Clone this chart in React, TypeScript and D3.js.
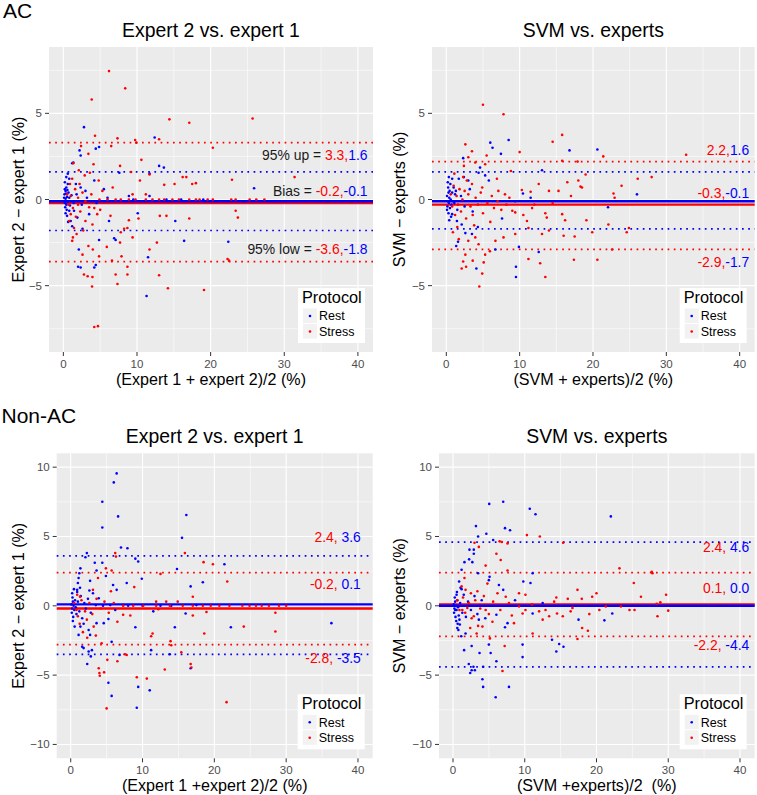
import React from 'react';
import * as d3 from 'd3';

const FONT = '"Liberation Sans", Arial, Helvetica, sans-serif';
const BLUE = '#0000ff';
const RED = '#ff0000';

// ---- AC, expert 2 vs expert 1 ----
const acExpertRest = [
  [2.8, 4.2], [12.4, 3.6], [4.85, 3.05], [4.4, 2.95], [2.2, 2.85], [2.35, 2.55], [1.2, 2.1], [1.35, 2.15],
  [13.0, 1.95], [13.65, 1.85], [11.7, 1.5], [7.6, 1.55], [4.2, 1.1], [25.9, 0.65], [0.8, 1.2], [0.6, 0.9],
  [0.4, 0.7], [0.3, 0.5], [1.7, 0.9], [2.35, 0.7], [3.0, 0.5], [5.5, 0.6], [8.9, 0.2], [11.7, 0.2],
  [15.2, -1.25], [16.4, -2.4], [22.4, -2.45], [11.5, -3.35], [11.3, -5.6], [4.4, -3.8], [4.2, -3.95],
  [2.1, -2.9], [2.0, -3.9], [2.35, -3.95], [4.85, -2.35], [6.9, -2.25], [7.1, -2.35], [1.0, -1.25],
  [1.2, -1.55], [2.6, -1.7], [1.9, -1.05], [0.8, -0.65], [0.5, -0.95], [1.45, -0.65], [3.5, -0.85],
  [10.1, -0.8], [6.2, -1.25], [0.1, 0.1], [0.2, -0.2], [0.15, 0.3], [0.3, 0.05], [0.25, -0.45],
  [0.4, -0.3], [0.35, 0.35], [0.5, 0.15], [0.2, 0.6], [0.45, -0.6], [0.6, -0.15], [0.7, 0.4], [0.1, -0.1],
  [0.3, -0.8], [0.55, 0.55], [0.9, -0.35], [1.1, 0.25], [0.8, 0.1], [1.4, -0.2], [1.8, 0.3], [2.5, -0.3],
  [3.2, 0.1], [0.2, 1.0], [0.4, 1.3], [0.6, 1.5], [0.65, -1.3], [4.5, -0.2], [6.0, 0.1], [9.5, 0.0],
  [14.0, 0.0], [16.0, 0.0], [19.0, 0.0],
];
const acExpertStress = [
  [6.2, 7.45], [8.4, 6.45], [3.85, 5.8], [14.4, 4.65], [17.1, 4.45], [25.7, 4.7], [4.3, 3.7], [7.35, 3.55],
  [9.75, 3.45], [9.9, 3.3], [13.0, 3.5], [20.3, 3.0], [2.4, 3.1], [6.5, 3.1], [3.4, 2.65], [10.6, 2.3],
  [4.1, 2.05], [7.7, 1.95], [1.35, 2.1], [2.1, 1.7], [3.6, 1.55], [2.9, 1.4], [4.8, 1.1], [9.2, 1.6],
  [10.4, 1.1], [11.7, 1.45], [13.7, 0.85], [15.1, 0.9], [16.2, 1.3], [16.7, 1.3], [17.5, 0.9], [18.0, 0.95],
  [22.9, 1.15], [31.4, 1.3], [5.3, 0.5], [6.7, 0.7], [9.4, 0.3], [11.2, 0.3],
  [4.9, 0], [6.0, 0], [7.1, 0], [7.8, 0], [8.9, 0], [9.8, 0], [11.2, 0], [12.1, 0], [13.0, 0], [13.7, 0],
  [14.8, 0], [15.7, 0], [17.1, 0], [18.0, 0], [18.5, 0], [19.6, 0], [20.3, 0], [22.8, 0], [23.4, 0],
  [25.3, 0], [26.2, 0], [27.3, 0],
  [13.1, -0.95], [14.0, -0.95], [17.1, -1.1], [23.7, -1.05], [23.4, -0.65], [8.9, -1.2], [10.2, -1.1],
  [6.4, -0.95], [4.6, -0.85], [3.0, -1.25], [3.95, -1.45], [1.45, -1.65], [1.8, -2.0], [2.7, -1.8],
  [8.7, -1.65], [8.25, -1.7], [7.8, -1.9], [9.4, -2.2], [1.2, -2.4], [1.3, -2.2], [3.4, -2.7], [4.0, -2.9],
  [5.9, -2.75], [7.7, -2.5], [12.7, -2.5], [11.7, -2.9], [22.3, -3.45], [22.5, -3.55], [2.6, -3.2],
  [4.85, -3.3], [6.6, -3.55], [8.7, -3.9], [7.9, -3.3], [2.8, -4.35], [3.3, -4.45], [3.95, -4.5],
  [7.1, -4.35], [8.7, -4.35], [3.9, -5.05], [7.35, -4.9], [13.0, -4.4], [14.2, -5.15], [19.1, -5.25],
  [4.2, -7.4], [4.7, -7.35], [0.8, -1.25], [1.0, -0.85], [2.0, -0.3], [3.5, -0.45],
  [0.5, 0.3], [0.7, -0.3], [1.0, 0.2], [1.3, -0.5], [1.6, 0.6], [2.0, 0.1], [2.3, -0.7], [2.6, 0.4],
  [3.0, -0.1], [0.9, 0.9], [1.2, 1.2], [1.7, -1.0], [2.2, 0.9], [3.8, 0.3], [4.2, -0.5], [5.0, -0.6],
];

// ---- AC, SVM vs experts ----
const acSvmRest = [
  [6.0, 3.3], [6.3, 3.0], [8.5, 3.45], [7.45, 2.65], [16.8, 2.85], [20.6, 2.9], [2.3, 2.4], [4.6, 1.85],
  [4.4, 1.55], [13.05, 1.7], [5.3, 1.4], [5.8, 1.1], [26.0, 0.3], [22.05, -0.45], [10.45, 0.35], [11.5, 0.1],
  [7.6, -1.1], [4.3, -1.6], [9.4, -0.1], [1.35, -2.7], [1.6, -2.45], [4.1, -4.0], [6.7, -2.9], [9.9, -2.75],
  [9.5, -3.9], [9.5, -4.5], [12.6, -3.05], [2.4, 1.3], [3.0, 1.1], [1.7, 1.2], [1.0, 0.7], [1.2, 0.3],
  [0.8, -0.85], [1.45, -1.25], [2.1, -1.45], [2.6, -1.95], [3.5, -2.0],
  [0.1, 0.2], [0.2, -0.1], [0.3, 0.4], [0.15, -0.4], [0.35, -0.2], [0.4, 0.1], [0.25, 0.7], [0.5, -0.5],
  [0.45, 0.5], [0.6, 0.0], [0.2, 1.0], [0.3, -0.8], [0.55, 0.9], [0.7, -0.3], [0.8, 0.4], [0.1, -0.6],
  [0.9, -0.1], [0.35, 1.3], [0.65, -1.0], [1.1, -0.2], [1.3, 0.5], [1.5, -0.6], [0.4, -1.2], [0.8, 1.2],
  [2.0, 0.2], [2.5, -0.4], [3.2, 0.6], [3.6, -0.7],
];
const acSvmStress = [
  [5.0, 5.5], [7.8, 4.95], [15.8, 3.75], [14.5, 3.35], [2.6, 3.2], [10.0, 2.75], [21.4, 2.5], [32.7, 2.6],
  [3.5, 2.8], [3.0, 2.45], [5.5, 2.55], [2.4, 1.95], [3.95, 2.15], [5.3, 2.05], [15.8, 2.25], [17.9, 2.2],
  [28.0, 1.3], [26.1, 1.2], [8.8, 1.65], [19.0, 1.45], [16.5, 1.0], [18.0, 1.1], [18.3, 0.75], [18.5, 0.7],
  [23.9, 0.8], [22.8, 0.35], [22.95, 0.1], [15.3, 0.5], [12.6, 0.9], [14.0, 0.5], [10.3, 0.55], [11.5, 0.45],
  [7.1, 0.5], [8.0, 0.3], [3.5, 0.9], [2.8, 1.1], [4.9, 0.7], [9.0, -0.65], [9.4, -0.75], [11.7, -0.5],
  [13.5, -0.8], [13.7, -1.05], [15.8, -0.85], [16.2, -1.2], [19.1, -1.2], [22.1, -1.45], [24.6, -1.9],
  [24.9, -1.65], [11.0, -1.25], [11.2, -1.65], [13.05, -2.0], [14.0, -1.8], [16.0, -2.1], [17.5, -2.15],
  [19.9, -1.9], [7.8, -2.2], [6.7, -2.4], [9.4, -2.0], [3.95, -2.2], [3.0, -2.4], [4.4, -2.6], [2.6, -3.2],
  [5.3, -3.2], [5.95, -3.0], [3.6, -3.55], [2.3, -3.6], [2.1, -4.0], [2.7, -3.9], [5.1, -3.65], [4.9, -4.3],
  [4.5, -5.05], [11.2, -3.45], [12.8, -3.7], [13.5, -4.5], [17.4, -3.5], [20.6, -3.5], [22.6, -2.9],
  [0.6, 0.3], [0.8, -0.4], [1.0, 0.8], [1.2, -0.9], [1.4, 0.2], [1.6, -0.3], [1.8, 0.6], [2.0, -0.7],
  [2.2, 0.0], [2.5, 0.5], [2.7, -1.1], [3.0, 0.3], [3.3, -0.4], [3.6, -0.9], [4.0, 0.1], [4.3, -0.3],
  [4.7, 0.4], [5.0, -0.8], [5.6, -0.2], [6.2, 0.2], [6.5, -0.5], [7.0, -0.1], [7.5, -0.6], [8.2, -0.3],
  [8.6, 0.1], [1.1, 1.5], [1.5, -1.6], [2.3, 1.3], [3.8, -1.5], [6.0, -1.3], [0.9, -1.9], [1.7, -2.3],
  [12.0, -0.3], [14.5, -0.2], [10.5, -0.9], [17.0, 0.2], [6.9, 1.2],
];

// ---- Non-AC, expert 2 vs expert 1 ----
const nonAcExpertRest = [
  [6.4, 9.55], [6.0, 8.9], [4.4, 7.5], [6.6, 6.45], [4.4, 5.65], [16.1, 6.55], [15.5, 4.9], [7.0, 4.2],
  [7.9, 4.15], [9.0, 3.4], [9.4, 3.2], [2.25, 3.8], [2.05, 3.5], [3.35, 3.1], [4.4, 3.1], [14.8, 2.65],
  [21.4, 3.0], [4.9, 2.15], [3.6, 2.55], [9.9, 1.95], [18.4, 1.7], [16.7, 1.4], [5.9, 1.5], [2.7, 1.8],
  [1.35, 2.7], [1.2, 2.35], [1.1, 2.0], [1.0, 1.65], [0.9, 1.15], [7.8, 1.65], [6.4, 1.15], [3.9, 0.55],
  [36.3, -1.25], [22.3, -1.55], [14.5, -1.55], [9.0, -1.55], [11.2, -3.2], [13.8, -3.5], [16.0, -0.55],
  [16.7, -4.5], [2.3, -4.2], [2.95, -3.2], [2.5, -3.3], [2.8, -3.65], [1.6, -2.95], [1.8, -3.05],
  [5.25, -5.55], [5.7, -6.5], [9.2, -7.35], [9.4, -5.85], [11.0, -6.1], [6.8, -3.55], [5.7, -2.6],
  [3.6, -1.25], [2.5, -1.75], [2.7, -2.1], [1.1, -2.1], [1.35, -1.5], [4.6, -1.25], [5.25, -0.95],
  [6.2, -0.3], [7.3, 0.05], [11.5, -0.4], [3.5, 0.05], [4.5, 0.0], [5.5, 0.05], [8.0, 0.0], [10.0, 0.0],
  [12.5, 0.0], [14.0, 0.0], [17.5, 0.05],
  [0.1, 0.1], [0.2, -0.2], [0.3, 0.3], [0.15, -0.5], [0.4, 0.0], [0.25, 0.6], [0.5, -0.3], [0.35, -0.8],
  [0.6, 0.4], [0.2, 0.9], [0.7, -0.1], [0.45, 1.2], [0.8, -0.6], [0.3, -1.1], [1.0, 0.3], [1.2, -0.4],
  [1.4, 0.7], [1.6, -0.9], [1.9, 0.2], [2.1, -0.2], [2.4, 0.5], [2.8, -0.5], [3.1, 0.9], [0.55, -1.5],
  [0.9, 1.0], [1.3, 1.3], [1.8, -1.3], [2.6, 1.1],
];
const nonAcExpertStress = [
  [5.0, -7.4], [21.7, -6.95], [9.2, -5.15], [10.6, -5.25], [16.7, -4.2], [16.8, -4.45], [13.1, -4.6],
  [3.9, -4.5], [4.0, -4.85], [4.65, -4.8], [4.05, -5.05], [5.1, -3.9], [6.5, -4.0], [7.5, -3.5],
  [15.4, -3.35], [13.9, -2.55], [14.0, -2.85], [11.4, -2.0], [11.2, -2.2], [24.1, -1.5], [28.5, -1.85],
  [28.5, -0.5], [17.0, -0.7], [18.9, -0.45], [18.6, -2.0], [8.3, -0.7], [12.2, -0.25], [21.8, 1.75],
  [19.8, 3.0], [18.5, 3.15], [15.9, 3.8], [17.0, 0.65], [12.5, 2.3], [8.85, 1.35], [6.2, 3.8], [6.3, 3.55],
  [5.7, 2.55], [4.9, 2.7], [3.8, 2.0], [3.1, 1.15], [5.6, 1.05], [0.9, 0.8], [1.3, 0.65], [11.9, 0.3],
  [13.3, 0.3], [14.9, 0.3],
  [7.3, 0], [8.7, 0], [10.1, 0], [11.9, 0], [13.8, 0], [15.6, 0], [17.0, 0], [18.4, 0], [19.5, 0],
  [20.7, 0], [22.1, 0], [23.9, 0], [24.9, 0], [25.8, 0], [26.6, 0], [27.6, 0], [29.0, 0], [30.0, 0],
  [1.0, -0.75], [1.25, -1.3], [2.25, -1.0], [3.2, -1.5], [3.5, -2.15], [4.3, -2.7], [6.5, -1.15],
  [7.3, -0.65], [7.8, -3.55], [0.5, 0.2], [0.8, -0.3], [1.5, 0.4], [2.0, -0.4], [2.6, 0.2], [3.0, -0.6],
  [3.6, 0.5], [4.2, -0.2], [4.7, 0.3], [5.3, -0.5], [6.0, 0.2], [2.3, -2.3], [1.7, -1.9],
];

// ---- Non-AC, SVM vs experts ----
const nonAcSvmRest = [
  [5.05, 7.35], [7.0, 7.5], [10.7, 7.0], [11.5, 6.6], [22.0, 6.45], [3.2, 5.75], [3.5, 5.0], [4.65, 5.2],
  [5.6, 4.75], [7.25, 5.6], [7.95, 5.45], [2.3, 4.05], [2.9, 4.05], [2.25, 3.35], [2.7, 3.15], [2.9, 3.75],
  [1.6, 3.15], [3.5, 2.35], [1.2, 2.6], [5.1, 2.1], [5.0, 1.85], [9.8, 1.75], [11.1, 2.35], [10.8, 1.65],
  [6.4, 1.5], [7.0, 1.15], [0.85, 1.75], [1.05, 1.3], [8.65, 0.4], [12.5, 0.2], [21.1, -1.05],
  [22.2, -0.55], [17.5, -1.0], [13.8, -2.45], [14.8, -2.75], [14.4, -3.3], [15.4, -2.95], [9.7, -2.8],
  [9.7, -3.7], [7.8, -5.85], [5.95, -6.6], [4.1, -5.3], [4.2, -5.85], [2.4, -4.85], [2.6, -4.65],
  [2.85, -4.4], [2.2, -4.2], [3.05, -4.65], [1.55, -3.2], [2.6, -2.9], [3.7, -3.4], [5.25, -3.4],
  [4.2, -4.4], [6.05, -4.0], [5.0, -2.8], [0.6, -1.6], [0.75, -1.75], [0.95, -1.35], [1.15, -2.2],
  [1.75, -2.0], [7.6, -1.25], [7.25, -1.55], [11.1, -0.55], [6.05, -0.65], [3.6, -1.0],
  [0.1, 0.1], [0.2, -0.2], [0.3, 0.3], [0.15, -0.5], [0.4, 0.0], [0.25, 0.6], [0.5, -0.3], [0.35, -0.8],
  [0.6, 0.4], [0.45, -1.1], [0.7, -0.1], [0.55, 1.0], [0.8, -0.7], [0.65, -1.3], [1.0, 0.2], [1.3, -0.5],
  [1.5, 0.8], [1.8, -0.8], [2.1, 0.3], [2.5, -0.3], [3.0, 0.7], [3.4, -0.6], [4.0, 0.4], [4.5, -0.9],
  [0.3, -0.3], [0.5, 0.8], [0.9, -1.0], [1.2, 1.2],
];
const nonAcSvmStress = [
  [10.3, 5.1], [12.1, 5.0], [15.35, 4.55], [6.5, 4.65], [6.8, 4.6], [7.6, 4.5], [3.6, 4.25], [3.0, 4.55],
  [6.05, 3.75], [6.65, 3.3], [4.55, 2.9], [7.6, 2.55], [23.2, 2.7], [27.7, 2.45], [27.8, 2.35],
  [25.2, 1.65], [26.2, 0.65], [29.7, 0.8], [28.4, 0.15], [28.9, 0.25], [20.0, 0.9], [19.4, 0.65],
  [17.35, 1.15], [17.95, 0.5], [14.4, 0.6], [14.1, 0.3], [25.3, -0.3], [24.6, -0.3], [28.5, -0.75],
  [30.0, -0.35], [18.8, -1.8], [18.0, -1.6], [17.35, -2.4], [11.1, -2.0], [7.2, -2.9], [6.9, -4.7],
  [5.15, -2.35], [4.1, -1.5], [3.5, -1.45], [2.9, -0.75], [2.5, 0.9], [3.4, 1.05], [1.75, 1.15], [1.2, 1.4],
  [6.2, 0.9], [7.35, 0.65], [10.1, 0.8], [9.2, 0.9], [14.5, -0.55], [15.3, -0.75], [12.9, -0.3],
  [13.4, -0.75], [16.4, -0.4], [16.65, -0.15], [12.0, -0.4], [10.1, -0.3], [9.7, -0.55], [9.2, -0.05],
  [23.4, -0.05], [21.3, -0.05], [20.4, -0.3], [8.5, -1.25], [5.5, -1.15], [1.3, -0.3], [2.0, -0.15],
  [4.55, -0.3], [0.6, 0.4], [0.9, -0.3], [1.4, 0.6], [1.7, -0.5], [2.2, 0.2], [2.6, -0.9], [3.1, 0.4],
  [3.8, -0.2], [4.3, 0.7], [5.0, -0.6], [5.6, 0.3], [6.6, -0.3], [7.8, 0.2], [8.2, -0.7], [11.0, 0.1],
  [12.5, -1.0], [16.0, 0.5], [19.0, -0.6], [2.4, -1.6], [3.3, -2.0], [4.8, 1.6], [1.6, 2.0],
];

// limits: [bias, upper 95%, lower 95%]
const acExpertStressLim = [-0.2, 3.3, -3.6];
const acExpertRestLim = [-0.1, 1.6, -1.8];
const acSvmStressLim = [-0.3, 2.2, -2.9];
const acSvmRestLim = [-0.1, 1.6, -1.7];
const nonAcExpertStressLim = [-0.2, 2.4, -2.8];
const nonAcExpertRestLim = [0.1, 3.6, -3.5];
const nonAcSvmStressLim = [0.1, 2.4, -2.2];
const nonAcSvmRestLim = [0.0, 4.6, -4.4];

// annotation text: [y, prefix, red part, blue part]
const acExpertNotes = [
  [2.6, '95% up = ', '3.3,', '1.6'],
  [0.47, 'Bias = ', '-0.2,', '-0.1'],
  [-2.89, '95% low = ', '-3.6,', '-1.8'],
];
const acSvmNotes = [
  [2.85, '', '2.2,', '1.6'],
  [0.37, '', '-0.3,', '-0.1'],
  [-3.6, '', '-2.9,', '-1.7'],
];
const nonAcExpertNotes = [
  [4.93, '', '2.4,', ' 3.6'],
  [1.56, '', '-0.2,', ' 0.1'],
  [-3.8, '', '-2.8,', ' -3.5'],
];
const nonAcSvmNotes = [
  [4.25, '', '2.4,', ' 4.6'],
  [1.25, '', '0.1,', ' 0.0'],
  [-2.83, '', '-2.2,', ' -4.4'],
];

const xTicks = [0, 10, 20, 30, 40];
const xMinor = [5, 15, 25, 35];
const yTicksAc = [-5, 0, 5];
const yTicksNonAc = [-10, -5, 0, 5, 10];
const yMinor = [-7.5, -2.5, 2.5, 7.5];
const legendLabels = ['Rest', 'Stress'];

const fmt = (v: number) => String(v).replace('-', '\u2212');

const Panel = ({ box, yDomain, yTicks, rest, stress, restLim, stressLim, notes, noteX, title, xLabel, yLabel, yLabelX }: any) => {
  const x = d3.scaleLinear().domain([-1.95, 42.05]).range([box.left, box.right]);
  const y = d3.scaleLinear().domain(yDomain).range([box.bottom, box.top]);
  const cx = (box.left + box.right) / 2;
  const cy = (box.top + box.bottom) / 2;
  const hline = (v: number, color: string, dotted: boolean, key: string) => (
    <line key={key} x1={box.left} x2={box.right} y1={y(v)} y2={y(v)} stroke={color}
      strokeWidth={dotted ? 1.7 : 2.4} strokeDasharray={dotted ? '1.7 4.5' : undefined} />
  );
  const lg = { right: box.right - 8, bottom: box.bottom - 9, w: 67, h: 55 };
  const lgLeft = lg.right - lg.w;
  const lgTop = lg.bottom - lg.h;
  return (
    <g>
      <text x={cx} y={box.top - 10.3} textAnchor="middle" fontSize={19.4} fill="#000">{title}</text>
      <rect x={box.left} y={box.top} width={box.right - box.left} height={box.bottom - box.top} fill="#ebebeb" />
      {xMinor.map((t) => <line key={'xm' + t} x1={x(t)} x2={x(t)} y1={box.top} y2={box.bottom} stroke="#fff" strokeWidth={0.55} />)}
      {yMinor.map((t) => <line key={'ym' + t} x1={box.left} x2={box.right} y1={y(t)} y2={y(t)} stroke="#fff" strokeWidth={0.55} />)}
      {xTicks.map((t) => <line key={'xM' + t} x1={x(t)} x2={x(t)} y1={box.top} y2={box.bottom} stroke="#fff" strokeWidth={1.1} />)}
      {yTicks.map((t: number) => <line key={'yM' + t} x1={box.left} x2={box.right} y1={y(t)} y2={y(t)} stroke="#fff" strokeWidth={1.1} />)}
      {hline(stressLim[1], RED, true, 'su')}
      {hline(stressLim[2], RED, true, 'sl')}
      {hline(restLim[1], BLUE, true, 'ru')}
      {hline(restLim[2], BLUE, true, 'rl')}
      {hline(stressLim[0], RED, false, 'sb')}
      {hline(restLim[0], BLUE, false, 'rb')}
      {rest.map((d: number[], i: number) => <circle key={'r' + i} cx={x(d[0])} cy={y(d[1])} r={1.3} fill={BLUE} />)}
      {stress.map((d: number[], i: number) => <circle key={'s' + i} cx={x(d[0])} cy={y(d[1])} r={1.3} fill={RED} />)}
      {notes.map((n: any[], i: number) => (
        <text key={'n' + i} x={x(noteX)} y={y(n[0]) + 5} textAnchor="end" fontSize={13.9} style={{ whiteSpace: 'pre' }}>
          <tspan fill="#1a1a1a">{n[1]}</tspan>
          <tspan fill={RED}>{n[2]}</tspan>
          <tspan fill={BLUE}>{n[3]}</tspan>
        </text>
      ))}
      {/* axes */}
      {xTicks.map((t) => (
        <g key={'xt' + t}>
          <line x1={x(t)} x2={x(t)} y1={box.bottom} y2={box.bottom + 4} stroke="#333" strokeWidth={1} />
          <text x={x(t)} y={box.bottom + 16} textAnchor="middle" fontSize={11.5} fill="#4d4d4d">{fmt(t)}</text>
        </g>
      ))}
      {yTicks.map((t: number) => (
        <g key={'yt' + t}>
          <line x1={box.left - 4} x2={box.left} y1={y(t)} y2={y(t)} stroke="#333" strokeWidth={1} />
          <text x={box.left - 7} y={y(t) + 4} textAnchor="end" fontSize={11.5} fill="#4d4d4d">{fmt(t)}</text>
        </g>
      ))}
      <text x={cx} y={box.bottom + 33} textAnchor="middle" fontSize={16.1} fill="#000" style={{ whiteSpace: 'pre' }}>{xLabel}</text>
      <text transform={`translate(${yLabelX},${cy}) rotate(-90)`} textAnchor="middle" fontSize={16.1} fill="#000">{yLabel}</text>
      {/* legend */}
      <rect x={lgLeft} y={lgTop} width={lg.w} height={lg.h} fill="#fff" />
      <text x={lgLeft + 4} y={lgTop + 15} fontSize={16.3} fill="#000">Protocol</text>
      {legendLabels.map((lab, i) => (
        <g key={lab}>
          <rect x={lgLeft + 5} y={lgTop + 20.5 + i * 15.5} width={14} height={14.5} fill="#f2f2f2" />
          <circle cx={lgLeft + 12} cy={lgTop + 28 + i * 15.5} r={1.3} fill={i === 0 ? BLUE : RED} />
          <text x={lgLeft + 21} y={lgTop + 32.3 + i * 15.5} fontSize={12.5} fill="#000">{lab}</text>
        </g>
      ))}
    </g>
  );
};

export default function App() {
  return (
    <svg width={757} height={795} style={{ position: 'absolute', left: 0, top: 0, background: '#fff' }}
      fontFamily={FONT}>
      <rect width={757} height={795} fill="#fff" />
      <text x={3} y={17.5} fontSize={21} fill="#000">AC</text>
      <text x={1.5} y={422.5} fontSize={21} fill="#000">Non-AC</text>
      <Panel box={{ left: 49, right: 373, top: 47, bottom: 352 }} yDomain={[-8.85, 8.85]} yTicks={yTicksAc}
        rest={acExpertRest} stress={acExpertStress} restLim={acExpertRestLim} stressLim={acExpertStressLim}
        notes={acExpertNotes} noteX={41.3} title="Expert 2 vs. expert 1"
        xLabel="(Expert 1 + expert 2)/2 (%)" yLabel={'Expert 2 \u2212 expert 1 (%)'} yLabelX={24} />
      <Panel box={{ left: 432, right: 754.7, top: 47, bottom: 352 }} yDomain={[-8.85, 8.85]} yTicks={yTicksAc}
        rest={acSvmRest} stress={acSvmStress} restLim={acSvmRestLim} stressLim={acSvmStressLim}
        notes={acSvmNotes} noteX={41.3} title="SVM vs. experts"
        xLabel="(SVM + experts)/2 (%)" yLabel={'SVM \u2212 experts (%)'} yLabelX={405} />
      <Panel box={{ left: 56.7, right: 372.7, top: 453.3, bottom: 758.3 }} yDomain={[-11, 11]} yTicks={yTicksNonAc}
        rest={nonAcExpertRest} stress={nonAcExpertStress} restLim={nonAcExpertRestLim} stressLim={nonAcExpertStressLim}
        notes={nonAcExpertNotes} noteX={40.4} title="Expert 2 vs. expert 1"
        xLabel="(Expert 1 +expert 2)/2 (%)" yLabel={'Expert 2 \u2212 expert 1 (%)'} yLabelX={24} />
      <Panel box={{ left: 439, right: 754.7, top: 453.3, bottom: 758.3 }} yDomain={[-11, 11]} yTicks={yTicksNonAc}
        rest={nonAcSvmRest} stress={nonAcSvmStress} restLim={nonAcSvmRestLim} stressLim={nonAcSvmStressLim}
        notes={nonAcSvmNotes} noteX={41.3} title="SVM vs. experts"
        xLabel="(SVM +experts)/2  (%)" yLabel={'SVM \u2212 experts (%)'} yLabelX={405} />
    </svg>
  );
}
